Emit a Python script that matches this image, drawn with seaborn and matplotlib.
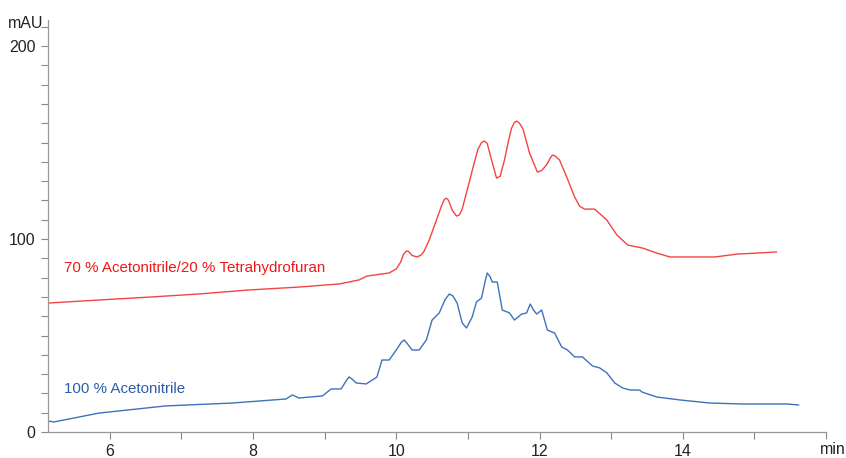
import pandas as pd
import matplotlib
matplotlib.use("Agg")
import matplotlib.pyplot as plt
from matplotlib.ticker import MultipleLocator
import seaborn as sns

# red trace: 70 % Acetonitrile/20 % Tetrahydrofuran
red_t = [5.13, 5.85, 6.55, 7.24, 7.94, 8.64, 9.20, 9.48, 9.59, 9.90, 10.00, 10.06, 10.10,
         10.14, 10.17, 10.22, 10.29, 10.35, 10.39, 10.46, 10.56, 10.63, 10.67, 10.70, 10.73,
         10.78, 10.84, 10.88, 10.92, 10.99, 11.08, 11.14, 11.19, 11.23, 11.27, 11.33, 11.40,
         11.45, 11.51, 11.57, 11.61, 11.65, 11.68, 11.72, 11.77, 11.86, 11.97, 12.03, 12.10,
         12.15, 12.18, 12.22, 12.28, 12.38, 12.49, 12.56, 12.63, 12.77, 12.94, 13.08, 13.23,
         13.44, 13.64, 13.82, 14.45, 14.76, 15.03, 15.31]
red_y = [66.8, 68.4, 69.9, 71.5, 73.6, 75.1, 76.7, 78.8, 80.8, 82.4, 84.5, 88.0, 92.0,
         93.8, 93.6, 91.5, 90.7, 91.8, 93.8, 99.5, 109.8, 117.0, 120.5, 121.2, 120.0,
         115.0, 111.9, 112.5, 115.5, 125.4, 138.3, 146.5, 150.0, 150.8, 149.5, 141.0, 131.6,
         132.5, 140.9, 151.5, 157.5, 160.5, 161.1, 160.0, 157.0, 144.6, 134.7, 135.5, 138.5,
         142.0, 143.5, 143.0, 140.9, 132.1, 121.8, 117.0, 115.5, 115.5, 109.8, 102.1, 96.9,
         95.3, 92.7, 90.7, 90.7, 92.2, 92.7, 93.3]

# blue trace: 100 % Acetonitrile
blue_t = [5.13, 5.22, 5.85, 6.78, 7.71, 8.46, 8.55, 8.64, 8.97, 9.09, 9.23, 9.30, 9.34,
          9.38, 9.44, 9.58, 9.73, 9.80, 9.90, 10.00, 10.07, 10.11, 10.15, 10.22, 10.32,
          10.42, 10.50, 10.60, 10.68, 10.74, 10.79, 10.85, 10.92, 10.98, 11.06, 11.12, 11.19,
          11.24, 11.27, 11.31, 11.34, 11.41, 11.48, 11.58, 11.65, 11.75, 11.82, 11.87, 11.92,
          11.96, 12.03, 12.11, 12.21, 12.31, 12.39, 12.49, 12.60, 12.74, 12.84, 12.94, 13.05,
          13.16, 13.26, 13.40, 13.43, 13.64, 13.96, 14.38, 14.84, 15.45, 15.62]
blue_y = [5.7, 5.2, 9.8, 13.5, 15.0, 17.1, 19.2, 17.6, 18.7, 22.3, 22.3, 26.5, 28.5,
          27.5, 25.4, 24.9, 28.5, 37.3, 37.3, 42.5, 46.5, 47.7, 46.0, 42.5, 42.5,
          47.7, 58.0, 61.7, 68.5, 71.5, 70.5, 66.8, 56.5, 53.9, 59.6, 67.4, 69.4,
          78.0, 82.4, 80.5, 77.7, 77.7, 63.2, 61.7, 58.0, 61.1, 61.7, 66.3, 63.0,
          61.1, 63.2, 52.8, 51.3, 44.0, 42.5, 38.9, 38.9, 34.2, 33.2, 30.6, 25.4,
          22.8, 21.8, 21.7, 20.7, 18.1, 16.6, 15.0, 14.5, 14.5, 14.0]

red_label = "70 % Acetonitrile/20 % Tetrahydrofuran"
blue_label = "100 % Acetonitrile"

df = pd.concat([
    pd.DataFrame({"min": red_t, "mAU": red_y, "run": red_label}),
    pd.DataFrame({"min": blue_t, "mAU": blue_y, "run": blue_label}),
])

sns.set_style("ticks")
plt.rcParams["font.family"] = ["Liberation Sans", "DejaVu Sans"]

fig = plt.figure(figsize=(8.46, 4.58), dpi=100)
ax = fig.add_axes([0.0567, 0.0568, 0.9197, 0.8995])

sns.lineplot(data=df, x="min", y="mAU", hue="run", sort=False,
             palette={red_label: "#f34444", blue_label: "#3f72b8"},
             linewidth=1.0, legend=False, ax=ax)

ax.set_xlim(5.137, 16)
ax.set_ylim(0, 213.5)
ax.xaxis.set_major_locator(MultipleLocator(2))
ax.xaxis.set_minor_locator(MultipleLocator(1))
ax.yaxis.set_major_locator(MultipleLocator(100))
ax.yaxis.set_minor_locator(MultipleLocator(10))
ax.set_xticks([6, 8, 10, 12, 14])
ax.tick_params(which="both", length=5, width=0.8, color="#888888",
               labelsize=11.5, labelcolor="#222222", pad=4)
ax.set_xlabel("")
ax.set_ylabel("")
sns.despine(ax=ax)
for s in ["left", "bottom"]:
    ax.spines[s].set_color("#999999")
    ax.spines[s].set_linewidth(0.9)

ax.text(5.36, 85, red_label, color="#f01818", fontsize=10.9, va="center", ha="left")
ax.text(5.36, 22.3, blue_label, color="#2c5ea8", fontsize=10.9, va="center", ha="left")

fig.text(0.051, 0.948, "mAU", fontsize=11.5, color="#222222", ha="right", va="center")
fig.text(0.969, 0.003, "min", fontsize=11.5, color="#222222", ha="left", va="bottom")

fig.savefig("out.png", dpi=100)
